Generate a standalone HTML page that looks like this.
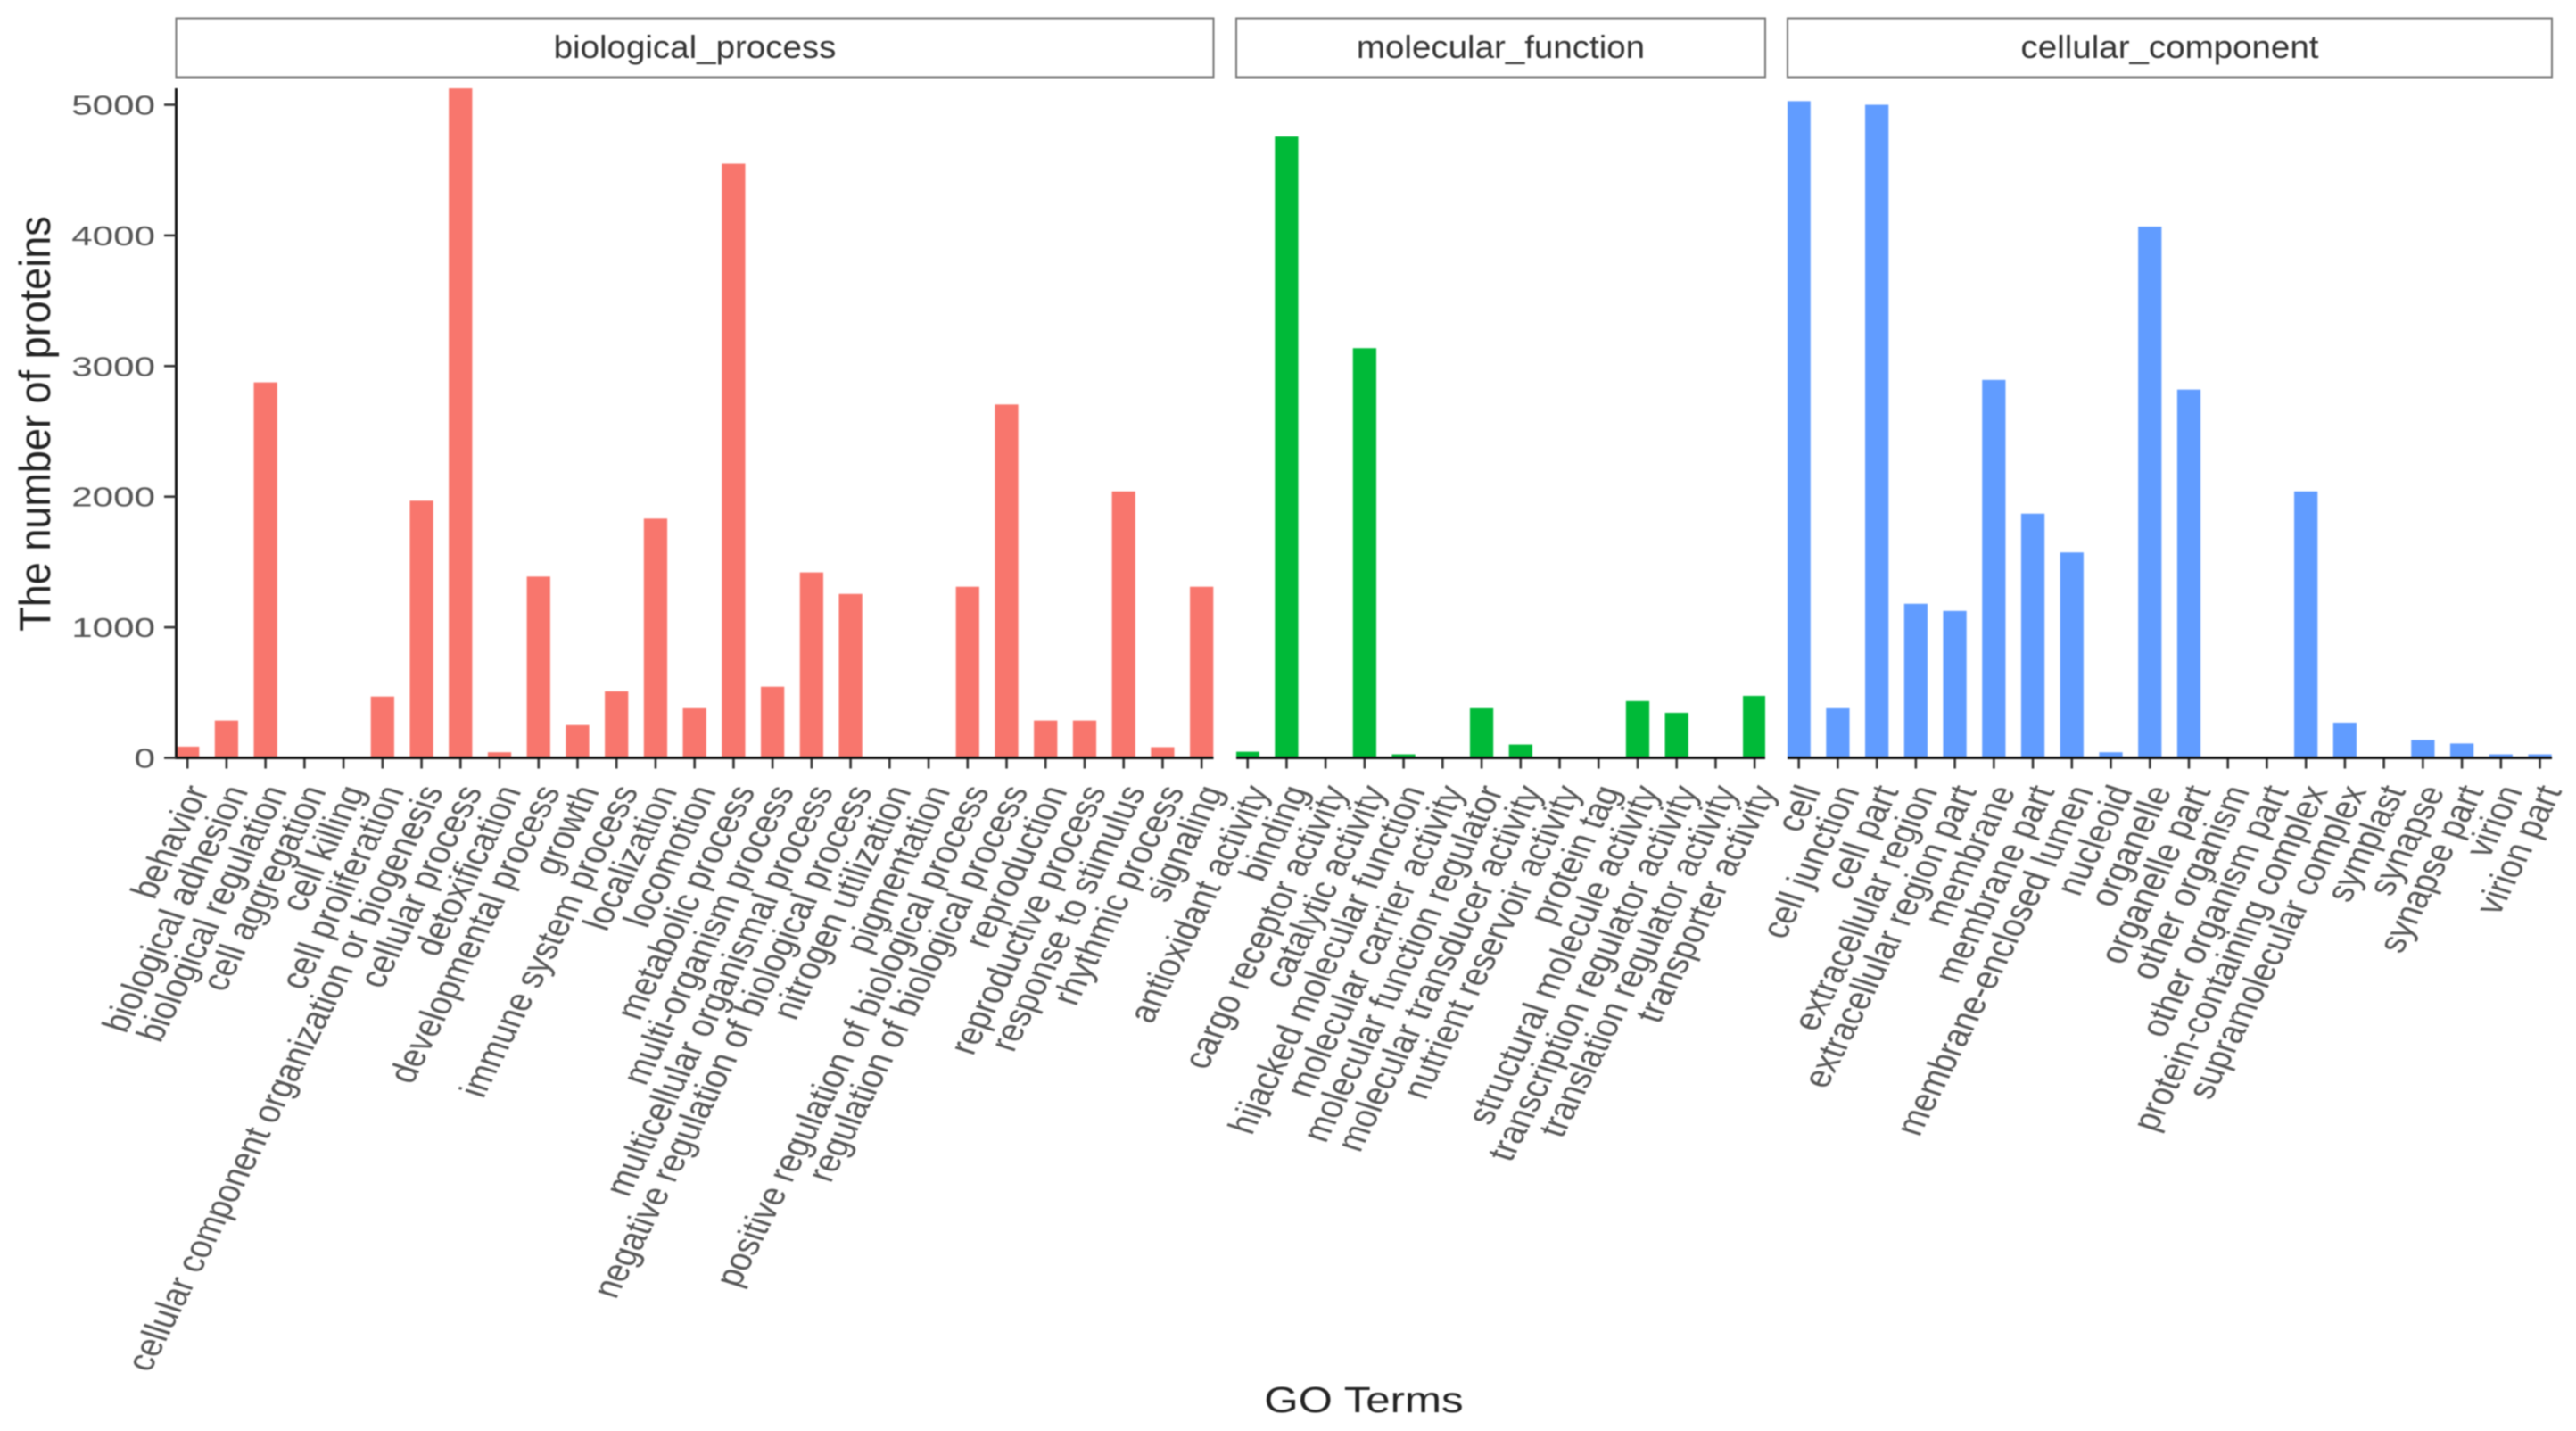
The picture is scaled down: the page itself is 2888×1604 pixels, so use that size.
<!DOCTYPE html>
<html lang="en">
<head>
<meta charset="utf-8">
<title>GO Terms bar chart</title>
<style>
html,body{margin:0;padding:0;background:#fff;width:2888px;height:1604px;overflow:hidden}
svg{display:block;filter:blur(0.7px)}
text{font-family:"Liberation Sans",sans-serif}
</style>
</head>
<body>
<svg id="chart" xmlns="http://www.w3.org/2000/svg" width="2888" height="1604" viewBox="0 0 2888 1604"></svg>
<script>
const bpTerms = ["behavior","biological adhesion","biological regulation","cell aggregation","cell killing","cell proliferation","cellular component organization or biogenesis","cellular process","detoxification","developmental process","growth","immune system process","localization","locomotion","metabolic process","multi-organism process","multicellular organismal process","negative regulation of biological process","nitrogen utilization","pigmentation","positive regulation of biological process","regulation of biological process","reproduction","reproductive process","response to stimulus","rhythmic process","signaling"];
const bpValues = [86,286,2875,0,0,470,1969,5126,43,1388,251,510,1832,380,4549,545,1420,1255,0,0,1310,2706,286,286,2040,82,1310];
const mfTerms = ["antioxidant activity","binding","cargo receptor activity","catalytic activity","hijacked molecular function","molecular carrier activity","molecular function regulator","molecular transducer activity","nutrient reservoir activity","protein tag","structural molecule activity","transcription regulator activity","translation regulator activity","transporter activity"];
const mfValues = [47,4757,0,3137,27,0,380,102,0,0,435,345,0,475];
const ccTerms = ["cell","cell junction","cell part","extracellular region","extracellular region part","membrane","membrane part","membrane-enclosed lumen","nucleoid","organelle","organelle part","other organism","other organism part","protein-containing complex","supramolecular complex","symplast","synapse","synapse part","virion","virion part"];
const ccValues = [5028,380,5000,1180,1125,2894,1870,1573,43,4067,2820,0,0,2040,270,0,137,110,27,27];
const yTicks = [0,1000,2000,3000,4000,5000];

const NS = "http://www.w3.org/2000/svg";
const svg = document.getElementById("chart");
const y0 = 849.5, yTop = 99, pxPerUnit = 732 / 5000, unit = 43.73;
function yScale(v){ return y0 - v * pxPerUnit; }
function make(tag, attrs){
  const el = document.createElementNS(NS, tag);
  for (const k in attrs) el.setAttribute(k, attrs[k]);
  return el;
}
const facets = [
  {key:"biological-process", title:"biological_process", left:197.5, right:1360.5, color:"#F8766D", terms:bpTerms, values:bpValues},
  {key:"molecular-function", title:"molecular_function", left:1386, right:1979, color:"#00BA38", terms:mfTerms, values:mfValues},
  {key:"cellular-component", title:"cellular_component", left:2004, right:2861, color:"#619CFF", terms:ccTerms, values:ccValues}
];
const labelScaleX = 1.25, labelAngle = -68, labelSize = 34.6;

facets.forEach(function(f){
  function xScale(i){ return f.left + (i + 0.29) * unit; }
  const strip = make("rect", {x:f.left, y:20.5, width:f.right - f.left, height:66, fill:"#fff", stroke:"#777", "stroke-width":2});
  
  
  svg.appendChild(strip);
  const stripText = make("text", {transform:"translate(" + (f.left + f.right) / 2 + ",65) scale(1.07,1)", "text-anchor":"middle", "font-size":36, fill:"#333"});
  stripText.textContent = f.title;
  
  
  svg.appendChild(stripText);

  f.values.forEach(function(v, i){
    const cx = xScale(i), w = 0.6 * unit;
    if (v > 0) {
      const bar = make("rect", {x:Math.max(cx - w / 2, f.left), y:yScale(v), width:Math.min(cx + w / 2, f.right) - Math.max(cx - w / 2, f.left), height:y0 - yScale(v), fill:f.color});
      
      
      svg.appendChild(bar);
    }
    const tick = make("line", {x1:cx, x2:cx, y1:y0, y2:y0 + 12, stroke:"#333", "stroke-width":2.6});
    
    
    svg.appendChild(tick);
    const label = make("text", {transform:"translate(" + (cx + 25) + "," + (y0 + 37) + ") scale(" + labelScaleX + ",1) rotate(" + labelAngle + ")", "text-anchor":"end", "font-size":labelSize, fill:"#555"});
    label.textContent = f.terms[i];
    
    
    svg.appendChild(label);
  });

  const xAxis = make("line", {x1:f.left, x2:f.right, y1:y0, y2:y0, stroke:"#111", "stroke-width":3});
  
  
  svg.appendChild(xAxis);
});

const yAxis = make("line", {x1:197.5, x2:197.5, y1:yTop, y2:y0 + 1.5, stroke:"#111", "stroke-width":3});


svg.appendChild(yAxis);

yTicks.forEach(function(t){
  const y = yScale(t);
  const tick = make("line", {x1:184, x2:197.5, y1:y, y2:y, stroke:"#333", "stroke-width":2.6});
  
  
  svg.appendChild(tick);
  const label = make("text", {transform:"translate(174," + (y + 11) + ") scale(1.36,1)", "text-anchor":"end", "font-size":31, fill:"#555"});
  label.textContent = t;
  
  
  svg.appendChild(label);
});

const yTitle = make("text", {transform:"translate(56,475) scale(1.25,1.14) rotate(-90)", "text-anchor":"middle", "font-size":39.5, fill:"#222"});
yTitle.textContent = "The number of proteins";


svg.appendChild(yTitle);

const xTitle = make("text", {transform:"translate(1529,1583) scale(1.2,1)", "text-anchor":"middle", "font-size":41, fill:"#222"});
xTitle.textContent = "GO Terms";


svg.appendChild(xTitle);
</script>
</body>
</html>
